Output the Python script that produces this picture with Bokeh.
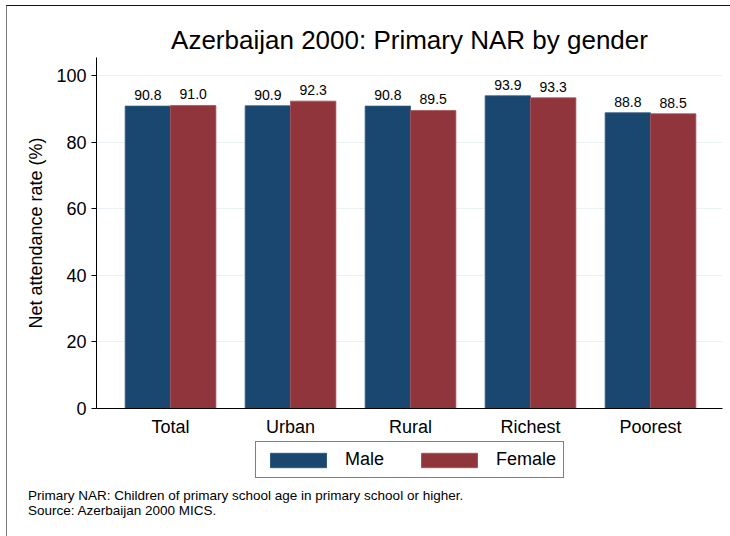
from bokeh.plotting import figure
from bokeh.layouts import column
from bokeh.models import ColumnDataSource, LabelSet, Legend, LegendItem, FixedTicker, Range1d, Div
from bokeh.core.properties import value
from bokeh.embed import file_html
from bokeh.resources import INLINE

categories = ["Total", "Urban", "Rural", "Richest", "Poorest"]
male = [90.8, 90.9, 90.8, 93.9, 88.8]
female = [91.0, 92.3, 89.5, 93.3, 88.5]
y_ticks = [0, 20, 40, 60, 80, 100]
series_names = ["Male", "Female"]
notes = ["Primary NAR: Children of primary school age in primary school or higher.",
         "Source: Azerbaijan 2000 MICS."]

FONT = "Liberation Sans"
MALE_C = "#1a476f"
FEMALE_C = "#90353b"
MALE_EDGE = "#2f5a80"
FEMALE_EDGE = "#a5545a"

W = 723

idx = list(range(len(categories)))
bw = 0.378
src = ColumnDataSource(dict(
    xm=[i - bw / 2 for i in idx], xf=[i + bw / 2 for i in idx],
    male=male, female=female,
    ml=["%.1f" % v for v in male], fl=["%.1f" % v for v in female],
))

p = figure(width=W, height=434, output_backend="svg", toolbar_location=None,
           x_range=Range1d(-0.617, 4.6), y_range=Range1d(0, 105.4),
           min_border_left=89, min_border_right=8, min_border_top=51, min_border_bottom=32)
p.outline_line_color = None
p.background_fill_color = "white"
p.border_fill_color = "white"

p.vbar(x="xm", top="male", width=bw, source=src, fill_color=MALE_C, line_color=MALE_EDGE, line_width=0.8)
p.vbar(x="xf", top="female", width=bw, source=src, fill_color=FEMALE_C, line_color=FEMALE_EDGE, line_width=0.8)

for col, yc, lab in (("xm", "male", "ml"), ("xf", "female", "fl")):
    p.add_layout(LabelSet(x=col, y=yc, text=lab, source=src, y_offset=6,
                          text_align="center", text_baseline="bottom",
                          text_font=value(FONT), text_font_size=value("14px"), text_color="black"))

p.title.text = "Azerbaijan 2000: Primary NAR by gender"
p.title.text_font = FONT
p.title.text_font_size = "26px"
p.title.text_font_style = "normal"
p.title.align = "center"
p.title.text_color = "black"
p.title.standoff = 6

p.yaxis.ticker = FixedTicker(ticks=y_ticks)
p.yaxis.axis_label = "Net attendance rate (%)"
p.yaxis.axis_label_text_font = FONT
p.yaxis.axis_label_text_font_size = "18px"
p.yaxis.axis_label_text_font_style = "normal"
p.yaxis.axis_label_text_color = "black"
p.yaxis.axis_label_standoff = 7
p.yaxis.major_label_text_font = FONT
p.yaxis.major_label_text_font_size = "18px"
p.yaxis.major_label_text_color = "black"
p.yaxis.major_label_standoff = 5
p.yaxis.major_tick_out = 5
p.yaxis.major_tick_in = 0
p.yaxis.minor_tick_line_color = None
p.yaxis.axis_line_color = "black"
p.yaxis.major_tick_line_color = "black"

p.xaxis.ticker = FixedTicker(ticks=idx)
p.xaxis.major_label_overrides = {i: c for i, c in zip(idx, categories)}
p.xaxis.major_label_text_font = FONT
p.xaxis.major_label_text_font_size = "18px"
p.xaxis.major_label_text_color = "black"
p.xaxis.major_tick_line_color = None
p.xaxis.minor_tick_line_color = None
p.xaxis.major_tick_out = 0
p.xaxis.major_label_standoff = 8
p.xaxis.axis_line_color = "black"

p.xgrid.grid_line_color = None
p.ygrid.grid_line_color = "#eaf2f3"
p.ygrid.grid_line_width = 1.2
p.ygrid.ticker = FixedTicker(ticks=[20, 40, 60, 80, 100])

# legend strip (its frame lines up with the main frame)
H2 = 40
q = figure(width=W, height=H2, output_backend="svg", toolbar_location=None,
           x_range=Range1d(0, 626), y_range=Range1d(0, H2),
           x_axis_type=None, y_axis_type=None,
           min_border_left=89, min_border_right=8, min_border_top=0, min_border_bottom=0)
q.outline_line_color = None
q.xgrid.grid_line_color = None
q.ygrid.grid_line_color = None
q.background_fill_color = "white"
q.border_fill_color = "white"

# hidden swatch carriers (far outside the visible range)
dummy = ColumnDataSource(dict(x=[-5000], top=[-4999], bottom=[-5000]))
lm = q.vbar(x="x", top="top", bottom="bottom", width=1, source=dummy, fill_color=MALE_C, line_color=MALE_EDGE)
lf = q.vbar(x="x", top="top", bottom="bottom", width=1, source=dummy, fill_color=FEMALE_C, line_color=FEMALE_EDGE)

legend = Legend(items=[LegendItem(label=series_names[0], renderers=[lm]),
                       LegendItem(label=series_names[1], renderers=[lf])],
                orientation="horizontal", location=(159, 2),
                glyph_width=70, glyph_height=18, label_standoff=12, spacing=30,
                padding=7, margin=0,
                label_text_font=FONT, label_text_font_size="18px", label_text_color="black",
                border_line_color="black", border_line_width=1,
                background_fill_color="white", background_fill_alpha=1)
q.add_layout(legend, "center")

note_div = Div(text="<br>".join(notes), width=W, height=56, margin=0,
               styles={"font-family": FONT, "font-size": "13.5px", "line-height": "15px",
                       "color": "black", "padding-left": "21px", "padding-top": "8px",
                       "box-sizing": "border-box"})

layout = column(p, q, note_div, spacing=0, margin=(5, 0, 0, 6),
                styles={"border-top": "1px solid #111", "border-left": "1px solid #777"})

open("out.html", "w").write(file_html(layout, INLINE))
